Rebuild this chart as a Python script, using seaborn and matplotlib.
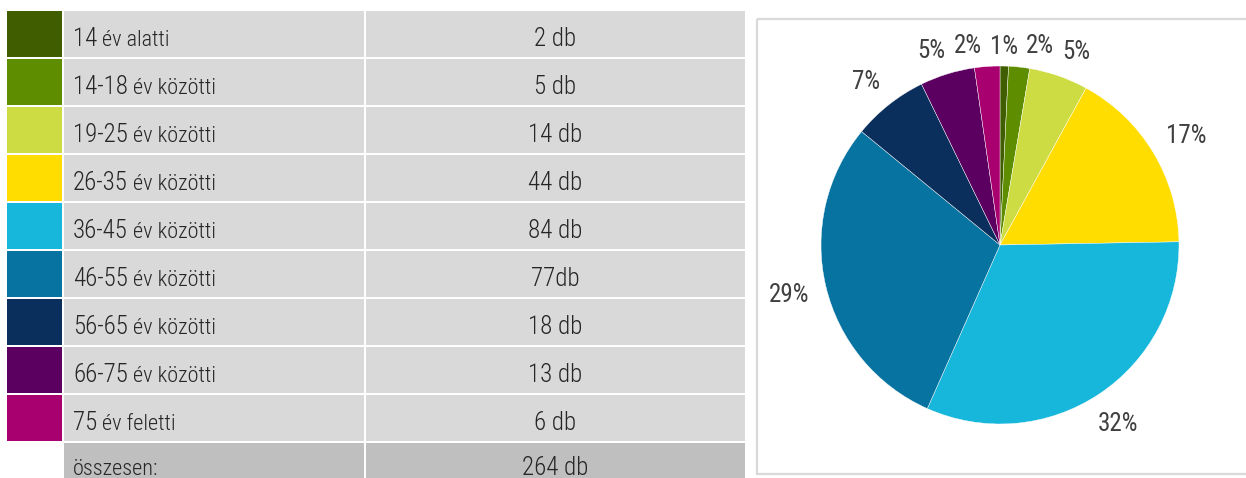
import matplotlib
matplotlib.use("Agg")
import matplotlib.pyplot as plt
from matplotlib.patches import Rectangle
import numpy as np
import seaborn as sns

# age groups (number part + text part as in the table)
age_nums = ["14", "14-18", "19-25", "26-35", "36-45", "46-55", "56-65", "66-75", "75"]
age_words = ["év alatti", "év közötti", "év közötti", "év közötti", "év közötti",
             "év közötti", "év közötti", "év közötti", "év feletti"]
counts = [2, 5, 14, 44, 84, 77, 18, 13, 6]
count_texts = ["2 db", "5 db", "14 db", "44 db", "84 db", "77db", "18 db", "13 db", "6 db"]
total_label = "összesen:"
total_text = "264 db"
colors = ["#405e00", "#5f8d00", "#cedc44", "#ffdd00", "#17b7db",
          "#0673a1", "#0a2f5c", "#5b0061", "#a8006f"]

sns.set_theme(style="white")
plt.rcParams["font.family"] = ["Roboto Condensed", "Liberation Sans Narrow", "DejaVu Sans"]
plt.rcParams["font.weight"] = 300

W, H = 1246, 478
fig = plt.figure(figsize=(W / 100, H / 100), dpi=100)
ax = fig.add_axes([0, 0, 1, 1])
ax.set_xlim(0, W)
ax.set_ylim(H, 0)
ax.axis("off")

ink = "#262626"
light = "#d9d9d9"
dark = "#bfbfbf"

# table
row_top, row_step, row_h = 11, 48, 46
num_texts = []
for i, (num, word, ct, col) in enumerate(zip(age_nums, age_words, count_texts, colors)):
    y = row_top + i * row_step
    ax.add_patch(Rectangle((7, y), 55, row_h, color=col, lw=0))
    ax.add_patch(Rectangle((64, y), 300, row_h, color=light, lw=0))
    ax.add_patch(Rectangle((366, y), 379, row_h, color=light, lw=0))
    t = ax.text(73, y + 35, num, fontsize=18, color=ink, va="baseline", ha="left")
    num_texts.append((t, word, y))
    ax.text(555, y + 35, ct, fontsize=18, color=ink, va="baseline", ha="center")

y = row_top + 9 * row_step
ax.add_patch(Rectangle((64, y), 300, 60, color=dark, lw=0))
ax.add_patch(Rectangle((366, y), 379, 60, color=dark, lw=0))
ax.text(73, y + 32, total_label, fontsize=16, color=ink, va="baseline", ha="left")
ax.text(555, y + 32, total_text, fontsize=18, color=ink, va="baseline", ha="center")

# word part right after the number part
fig.canvas.draw()
renderer = fig.canvas.get_renderer()
inv = ax.transData.inverted()
for t, word, y in num_texts:
    bb = t.get_window_extent(renderer)
    x1 = inv.transform((bb.x1, bb.y0))[0]
    ax.text(x1 + 5, y + 35, word, fontsize=16, color=ink, va="baseline", ha="left")

# pie chart box
ax.add_patch(Rectangle((757, 19), 500, 455, fill=False, ec="#d9d9d9", lw=1.6))

cx, cy, r = 1000, 245, 179
half = 1.25 * r
pax = fig.add_axes([(cx - half) / W, (H - cy - half) / H, 2 * half / W, 2 * half / H])
wedges, _, autotexts = pax.pie(counts, colors=sns.color_palette(colors), startangle=90,
                               counterclock=False, autopct="%1.0f%%", pctdistance=1.2,
                               wedgeprops=dict(edgecolor="white", linewidth=0.3),
                               textprops=dict(fontsize=18, color="#404040", weight=400))
pax.set_xlim(-1.25, 1.25)
pax.set_ylim(-1.25, 1.25)
pax.set_aspect("equal")
pax.axis("off")

# labels just outside the rim
for w, at in zip(wedges, autotexts):
    th = np.deg2rad((w.theta1 + w.theta2) / 2)
    ux, uy = np.cos(th), np.sin(th)
    d = 1.09 + 0.11 * abs(ux) + 0.056 * abs(uy)
    at.set_position((d * ux, d * uy - 0.04 * max(uy, 0)))
    at.set_ha("center")
    at.set_va("center")

# push crowded labels apart horizontally
fig.canvas.draw()
pinv = pax.transData.inverted()
for _ in range(60):
    moved = False
    boxes = [at.get_window_extent(renderer) for at in autotexts]
    for i in range(len(autotexts)):
        for j in range(i + 1, len(autotexts)):
            a, b = boxes[i], boxes[j]
            if a.y1 < b.y0 or b.y1 < a.y0:
                continue
            ov = min(a.x1, b.x1) - max(a.x0, b.x0) + 8
            if ov <= 0:
                continue
            sgn = 1 if (a.x0 + a.x1) >= (b.x0 + b.x1) else -1
            for k, s in ((i, sgn), (j, -sgn)):
                px, py = pax.transData.transform(autotexts[k].get_position())
                autotexts[k].set_position(pinv.transform((px + s * ov / 2, py)))
            boxes = [at.get_window_extent(renderer) for at in autotexts]
            moved = True
    if not moved:
        break

fig.savefig("out.png", dpi=100)
